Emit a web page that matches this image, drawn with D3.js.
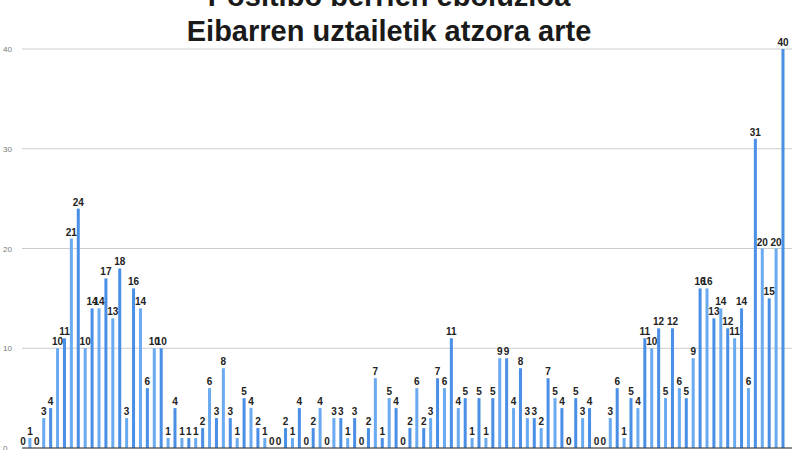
<!DOCTYPE html>
<html><head><meta charset="utf-8">
<script src="https://cdn.jsdelivr.net/npm/d3@7"></script>
<style>body{margin:0;background:#fff}</style>
</head><body><div id="chart"></div>
<script>
var titleLines = ["Positibo berrien eboluzioa", "Eibarren uztailetik atzora arte"]
var yTicks = [0, 10, 20, 30, 40]
var values = [0,1,0,3,4,10,11,21,24,10,14,14,17,13,18,3,16,14,6,10,10,1,4,1,1,1,2,6,3,8,3,1,5,4,2,1,
  0,0,2,1,4,0,2,4,0,3,3,1,3,0,2,7,1,5,4,0,2,6,2,3,7,6,11,4,5,1,5,1,5,9,9,4,8,
  3,3,2,7,5,4,0,5,3,4,0,0,3,6,1,5,4,11,10,12,5,12,6,5,9,16,16,13,14,12,11,14,6,31,20,15,20,40]
var days = values.map(function(d,i){return i})

var width = 800, height = 450
var svg = d3.select("#chart").append("svg").attr("width", width).attr("height", height)
  .style("font-family", "Liberation Sans, Arial, sans-serif")

var x = d3.scalePoint().domain(days).range([23, 783])
var y = d3.scaleLinear().domain([0, 40]).range([448, 49])

// grid
svg.selectAll(".grid").data(yTicks).enter().append("line")
  .attr("x1", 22).attr("x2", 792)
  .attr("y1", function(d){return y(d)}).attr("y2", function(d){return y(d)})
  .attr("stroke", "#cccccc").attr("stroke-width", 1)

svg.selectAll(".tick").data(yTicks).enter().append("text")
  .attr("x", 3).attr("y", function(d){return y(d) + 3})
  .attr("font-size", 8).attr("fill", "#777").text(function(d){return d})

svg.selectAll(".bar").data(values).enter().append("rect")
  .attr("x", function(d,i){return x(i) - 1.5})
  .attr("width", 3)
  .attr("y", function(d){return y(d)})
  .attr("height", function(d){return y(0) - y(d)})
  .attr("fill", function(d,i){return i % 2 ? "#6aaaf0" : "#4a8fe6"})

svg.append("line").attr("x1", 22).attr("x2", 792).attr("y1", y(0)).attr("y2", y(0))
  .attr("stroke", "#333").attr("stroke-width", 1.2)

svg.selectAll(".lab").data(values).enter().append("text")
  .attr("x", function(d,i){return x(i)})
  .attr("y", function(d){return y(d) - 3})
  .attr("text-anchor", "middle").attr("font-size", 10).attr("font-weight", "bold")
  .attr("fill", "#222").text(function(d){return d})

svg.selectAll(".title").data(titleLines).enter().append("text")
  .attr("x", 389).attr("y", function(d,i){return 6 + i * 35})
  .attr("text-anchor", "middle").attr("font-size", 29).attr("font-weight", "bold")
  .attr("fill", "#1a1a1a").text(function(d){return d})
</script></body></html>
